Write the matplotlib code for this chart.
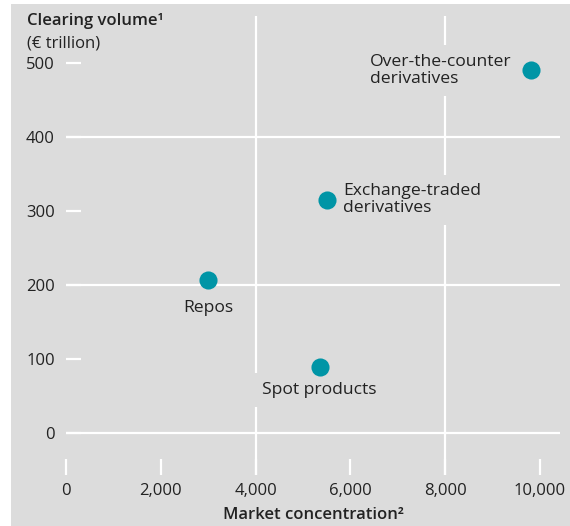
import matplotlib.pyplot as plt
from matplotlib.patches import Rectangle

# clearing volume vs. market concentration by segment
segments = ["Over-the-counter\nderivatives", "Exchange-traded\nderivatives", "Repos", "Spot products"]
concentration = [9800, 5500, 3000, 5350]
volume = [490, 315, 207, 89]

x_ticks = [0, 2000, 4000, 6000, 8000, 10000]
x_tick_labels = ["0", "2,000", "4,000", "6,000", "8,000", "10,000"]
y_ticks = [0, 100, 200, 300, 400, 500]
x_grid = [4000, 8000]
y_grid = [0, 200, 400]

BG = "#dcdcdc"
DOT = "#0095a6"
INK = "#222222"

plt.rcParams.update({
    "font.family": ["Open Sans", "DejaVu Sans"],
    "font.size": 12,
    "text.color": INK,
})

W, H = 570, 526
fig = plt.figure(figsize=(W / 100, H / 100), dpi=100)
fig.patches.append(Rectangle((11 / W, 0), 1 - 11 / W, 1 - 4 / H,
                             transform=fig.transFigure, fc=BG, ec="none", zorder=-5))

ax = fig.add_axes([66 / W, 51 / H, 494 / W, 459 / H])
ax.set_facecolor("none")
for s in ax.spines.values():
    s.set_visible(False)

ax.set_xlim(0, 10422)
ax.set_ylim(-56.8, 563.5)

for y in y_grid:
    ax.axhline(y, color="white", lw=1.6, zorder=1)
for x in x_grid:
    ax.axvline(x, color="white", lw=1.6, zorder=1)

ax.set_xticks(x_ticks, x_tick_labels)
ax.set_yticks(y_ticks)
ax.tick_params(axis="x", direction="in", length=11.5, width=1.6, color="white",
               pad=6, labelsize=12, labelcolor=INK)
ax.tick_params(axis="y", direction="in", length=10.8, width=1.6, color="white",
               pad=8, labelsize=12, labelcolor=INK)

ax.scatter(concentration, volume, s=170, color=DOT, zorder=4, linewidths=0)

# label boxes share the panel colour so they knock out the grid lines behind them
box = dict(boxstyle="square,pad=0.5", fc=BG, ec="none")
offsets = [(-13.5, 0, "right", "center"), (12, 0, "left", "center"),
           (0, -20, "center", "center"), (0, -16.5, "center", "center")]
for name, x, y, (dx, dy, ha, va) in zip(segments, concentration, volume, offsets):
    ax.annotate(name, (x, y), xytext=(dx, dy), textcoords="offset points",
                ha=ha, va=va, multialignment="left", fontsize=12.6, fontweight=500,
                linespacing=1.1, bbox=box, zorder=3)

fig.text(27 / W, 1 - 21 / H, "Clearing volume¹", fontsize=12, fontweight=600,
         ha="left", va="center")
fig.text(27 / W, 1 - 43 / H, "(€ trillion)", fontsize=12, ha="left", va="center")
fig.text(313 / W, 1 - 515 / H, "Market concentration²", fontsize=12,
         fontweight=600, ha="center", va="center")

fig.savefig("out.png", dpi=100)
